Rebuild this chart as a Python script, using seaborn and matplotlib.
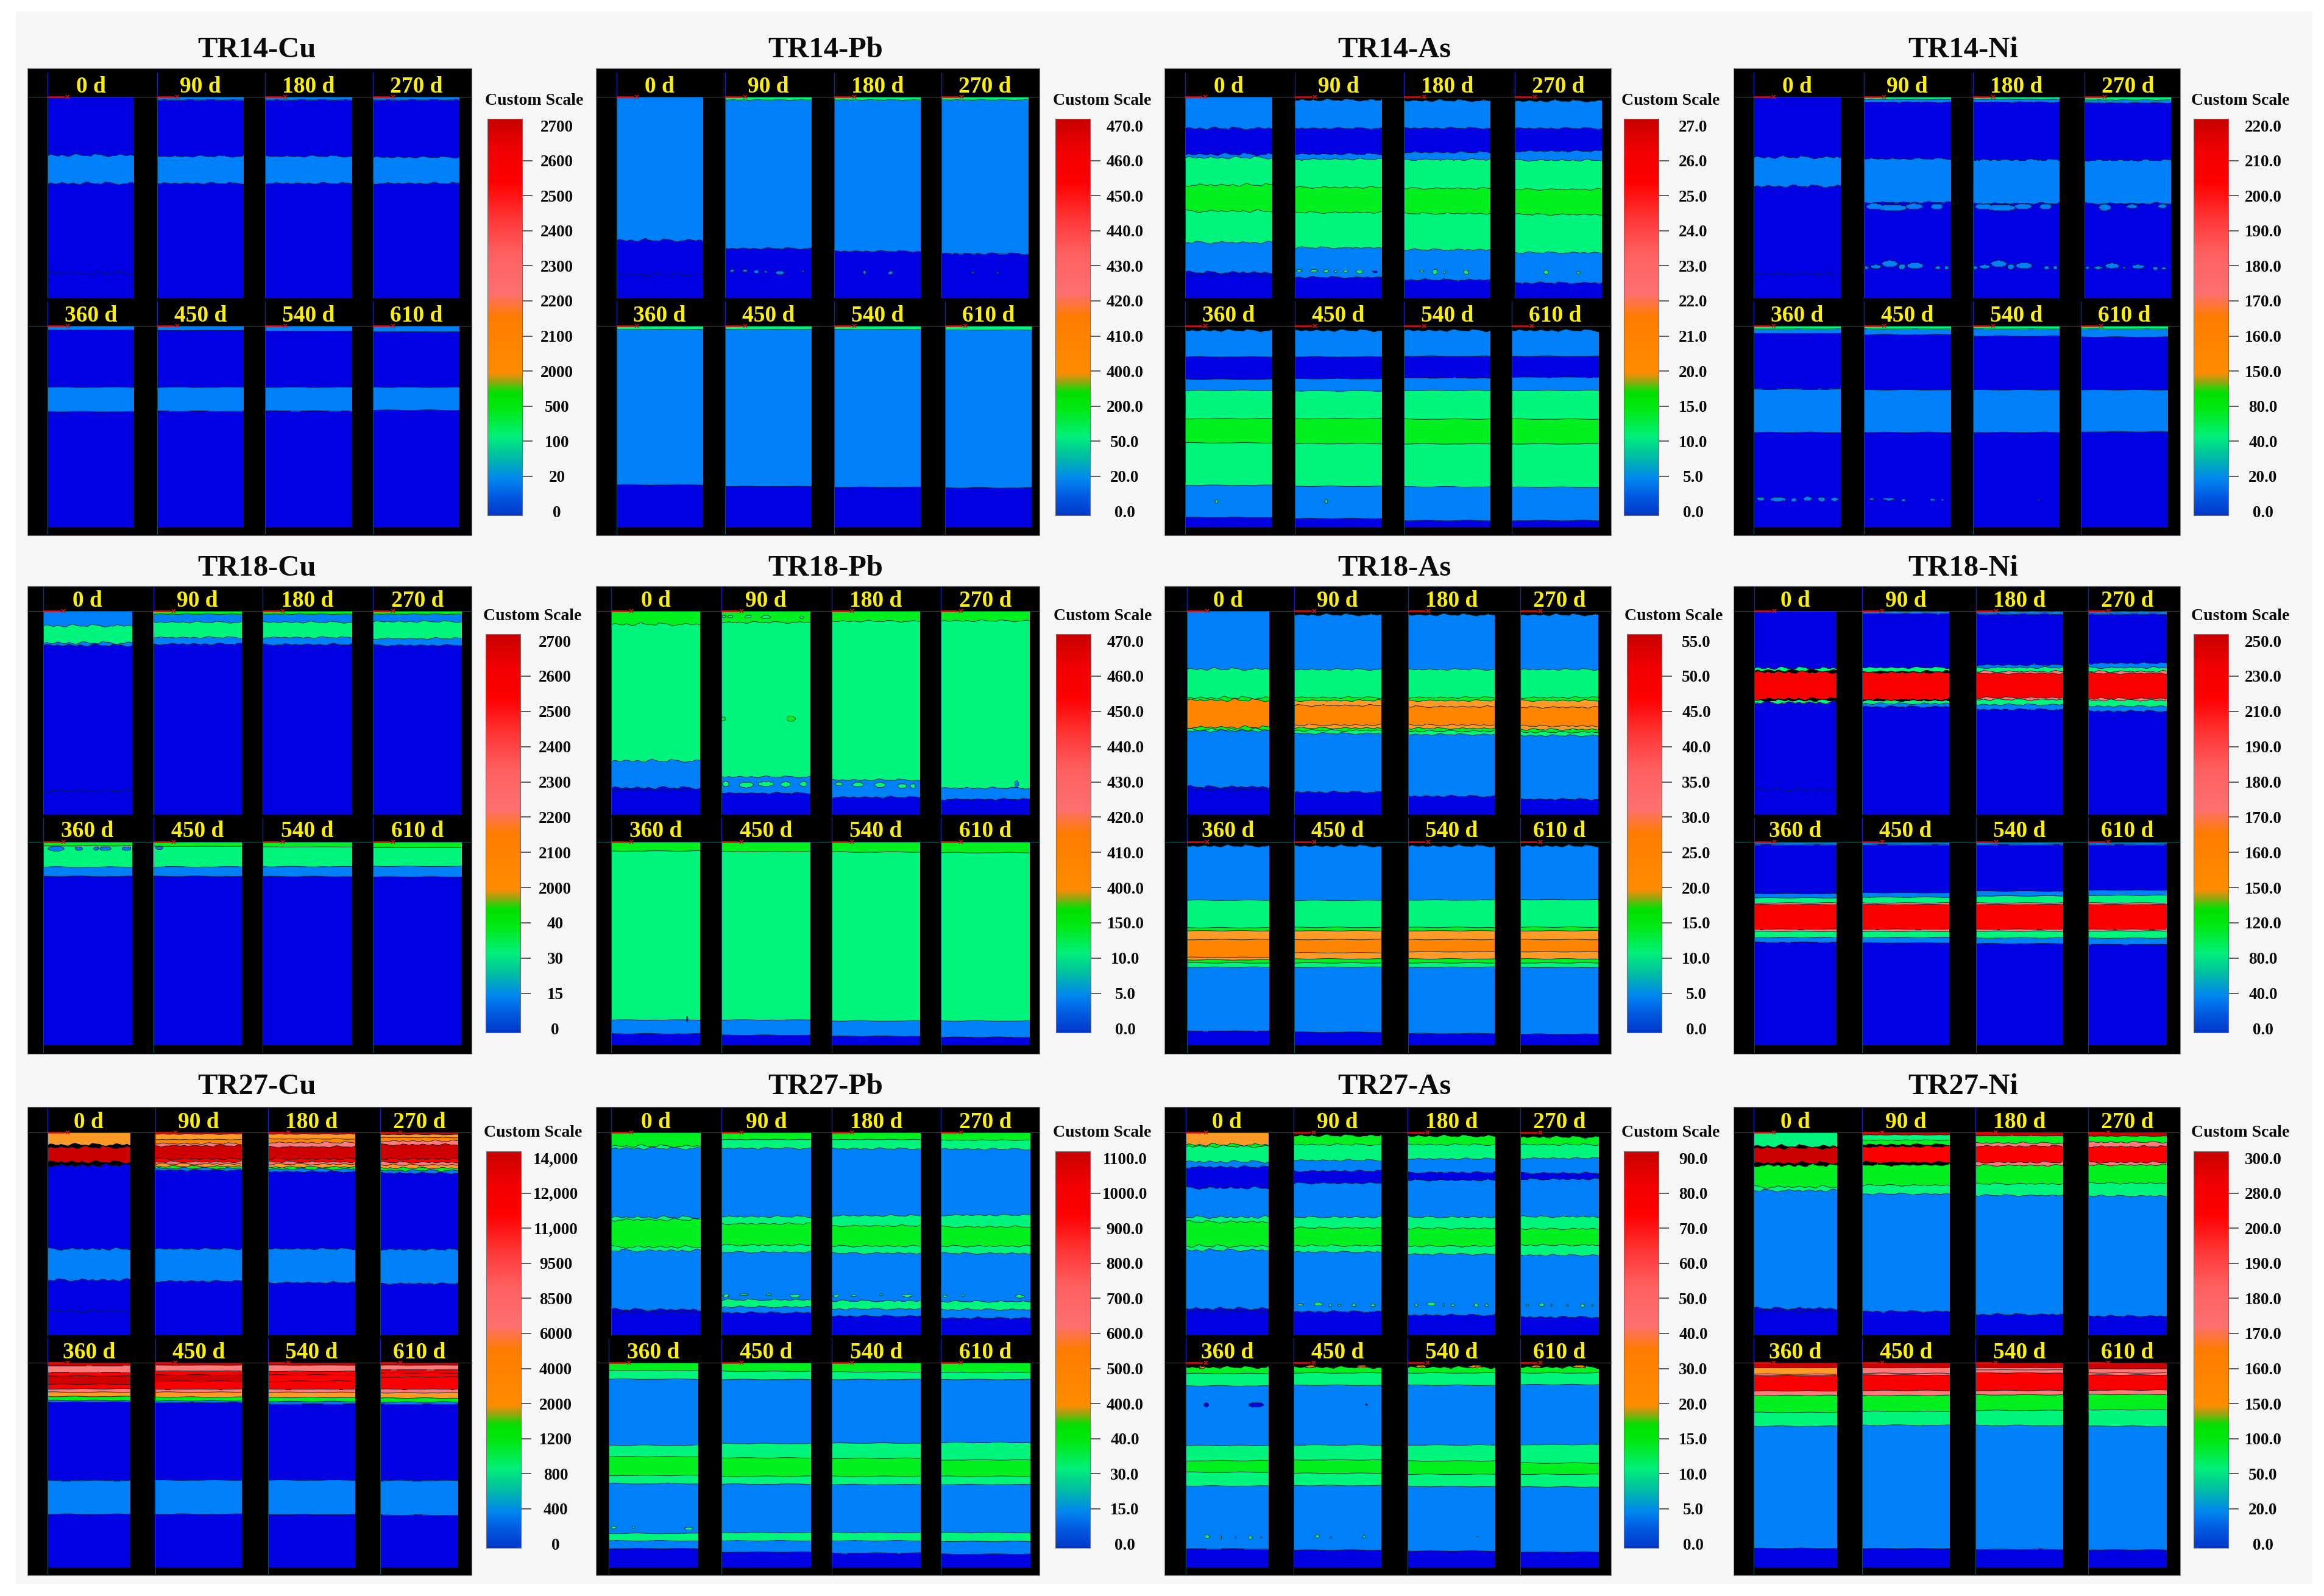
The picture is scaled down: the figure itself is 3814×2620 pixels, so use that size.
import numpy as np
import matplotlib
matplotlib.use("Agg")
import matplotlib.pyplot as plt
from matplotlib.colors import ListedColormap, LinearSegmentedColormap
from matplotlib.patches import Rectangle
import seaborn as sns

sns.set_theme(style="white")
plt.rcParams["font.family"] = ["Liberation Serif", "DejaVu Serif"]

# ------------------------------------------------------------------ data
DAYS = ["0 d", "90 d", "180 d", "270 d", "360 d", "450 d", "540 d", "610 d"]
K = 9  # black, no-data cells above the sediment surface
TITLES = ["TR14-Cu", "TR14-Pb", "TR14-As", "TR14-Ni",
          "TR18-Cu", "TR18-Pb", "TR18-As", "TR18-Ni",
          "TR27-Cu", "TR27-Pb", "TR27-As", "TR27-Ni"]

# colour class of each band, top to bottom; depth of the band boundaries in % of the panel
TR14_CU_LEVELS = [[0, 1, 0, 0]] + [[1, 0, 1, 0]] * 7
TR14_CU_BOUNDS = [[29, 43, 87.6], [1.5, 29.5, 43], [1.5, 29.5, 43], [1.5, 30, 43],
                  [2, 30.4, 42.5], [2.2, 30.4, 42.3], [2.6, 30.4, 42.2], [2.8, 30.4, 41.8]]
TR14_PB_LEVELS = [[1, 0, 0]] + [[2, 1, 0]] * 7
TR14_PB_BOUNDS = [[71.3, 88.4], [1.5, 75.4], [1.5, 76.8], [1.5, 78],
                  [1.8, 78.8], [1.8, 79.6], [1.8, 80], [2, 80.3]]
TR14_AS_LEVELS = [[1, 0, 1, 2, 3, 2, 1, 0, 0]] + [[K, 1, 0, 1, 2, 3, 2, 1, 0]] * 7
TR14_AS_BOUNDS = [[15.6, 28.5, 30.2, 43.8, 56.8, 72.4, 87.3, 88.5],
                  [1.5, 15.6, 28.4, 31, 45, 57.5, 75, 89.7],
                  [1.8, 15.5, 27.6, 31.2, 45.5, 58, 76, 91],
                  [2, 15.6, 27, 31.5, 46, 58.5, 77.5, 92.5],
                  [2.2, 15.3, 26.5, 32, 46, 58, 79, 95],
                  [2.2, 15.3, 26.2, 32.2, 46, 58.4, 79.5, 95.5],
                  [2.2, 15, 25.8, 32, 46.2, 58.5, 79.8, 96.5],
                  [2.2, 15, 25.5, 32, 46.2, 58.5, 80, 96.5]]
TR14_NI_LEVELS = [[0, 1, 0, 0]] + [[2, 1, 0, 1, 0]] * 7
TR14_NI_BOUNDS = [[30, 44.4, 88], [1.2, 2.6, 30.8, 52.5], [1.2, 2.6, 31.3, 53], [1.5, 3, 31.5, 53],
                  [1.5, 3.8, 31.4, 52.8], [1.5, 4.3, 31.7, 52.8], [1.5, 5, 31.7, 52.8], [1.5, 5.5, 31.7, 52.5]]

TR18_CU_LEVELS = [[1, 2, 1, 0, 0]] + [[3, 1, 2, 1, 0]] * 3 + [[3, 2, 1, 0]] * 4
TR18_CU_BOUNDS = [[7.2, 15.7, 16.8, 88.3], [1.5, 5.5, 13, 16.2], [1.5, 5.5, 13, 16.4], [1.5, 5.2, 13.5, 16.8],
                  [2, 12.4, 16.9], [2.2, 12.3, 16.9], [2.5, 12.2, 17], [2.8, 12, 17.2]]
TR18_PB_LEVELS = [[3, 2, 1, 0, 0]] + [[3, 2, 1, 0]] * 7
TR18_PB_BOUNDS = [[6.5, 73.6, 86.9, 87.8], [5.6, 81.5, 89.5], [5, 83, 91.5], [4.8, 87, 92.5],
                  [4.5, 87.5, 94.3], [4.8, 87.5, 95], [5, 88, 95.5], [5.3, 88, 96]]
TR18_AS_LEVELS = [[1, 2, 3, 4, 3, 2, 1, 0, 0]] + [[K, 1, 2, 3, 5, 4, 5, 3, 2, 1, 0]] * 7
TR18_AS_BOUNDS = [[28.5, 42.6, 43.8, 57.1, 58.2, 58.8, 86.4, 87.6],
                  [1.8, 28.7, 42.5, 44, 46.4, 56, 57.5, 58.7, 60.2, 89],
                  [1.8, 28.7, 42.5, 44, 47, 56, 57.7, 59, 60.7, 91],
                  [1.8, 28.7, 42.5, 44, 47.3, 56.5, 58.2, 59.5, 61.2, 92.5],
                  [2, 28.7, 42.2, 43.7, 48, 56.8, 58, 59.5, 61.6, 93],
                  [2, 28.8, 42, 43.7, 48, 54.5, 57.5, 59.5, 61.6, 93.5],
                  [2, 28.6, 42, 43.7, 48, 54, 57.5, 59.5, 61.6, 94.2],
                  [2, 28.4, 41.9, 43.7, 48, 54, 57.5, 59.5, 61.7, 94.5]]
TR18_NI_LEVELS = [[0, 2, K, 7, K, 2, 0, 0], [2, 1, 0, 2, K, 7, K, 2, 1, 0]] + [[2, 1, 0, 1, 2, 6, 7, 6, 2, 1, 0]] * 6
TR18_NI_BOUNDS = [[28, 29.2, 30, 43.2, 43.9, 45, 87.8],
                  [.4, 1.3, 27.8, 29.7, 30.2, 43.5, 44, 45.5, 47],
                  [.4, 1.5, 26.5, 27.8, 29.7, 30.6, 42.6, 43.5, 46, 48.4],
                  [.4, 1.5, 25.6, 27.8, 29.7, 30.6, 43, 43.8, 46.8, 49.2],
                  [.5, 1.5, 25.4, 27.5, 30, 30.8, 43, 44, 47, 49.3],
                  [.5, 1.5, 25, 27.2, 30, 30.8, 43, 44, 47, 49.6],
                  [.5, 1.5, 24.2, 26.6, 30, 30.8, 43, 43.9, 47.2, 50],
                  [.5, 1.5, 23.8, 26.3, 30, 30.8, 43, 43.8, 47.3, 50.5]]

TR27_CU_LEVELS = ([[5, K, 8, K, 0, 1, 0, 0]] + [[8, 5, 4, 6, 8, 7, 6, 5, 3, 1, 0, 1, 0]] * 3
                  + [[8, 6, 7, 8, 7, 6, 5, 3, 1, 0, 1, 0]] * 2 + [[8, 6, 7, 7, 7, 6, 5, 3, 1, 0, 1, 0]] * 2)
TR27_CU_BOUNDS = [[6, 7.3, 14.5, 16.2, 57.4, 72.7, 88],
                  [.8, 3.5, 5.5, 6.5, 13, 14.5, 15.5, 16.7, 17.6, 18.6, 57.4, 73.3],
                  [.8, 3.2, 5, 7, 13, 14.5, 15.6, 17, 18, 19.3, 57.4, 74],
                  [1, 2.5, 4.2, 6, 13, 14.7, 16, 17.5, 18.7, 20, 57.7, 74.5],
                  [1.5, 4.8, 6.5, 10.5, 12.8, 14.4, 16.5, 18.4, 19.2, 57.6, 74],
                  [1.2, 4, 6, 9, 13, 14.4, 16.8, 18.6, 19.5, 57.4, 74],
                  [1.2, 4.2, 6, 9, 13, 14.5, 17, 19, 20.2, 57.4, 74.2],
                  [1.2, 3.5, 5, 7, 13, 14.7, 17.3, 19.2, 20.3, 57.6, 74.5]]
TR27_PB_LEVELS = [[3, 2, 1, 2, 3, 2, 1, 0, 0]] + [[3, 2, 1, 2, 3, 2, 1, 2, 1, 0]] * 7
TR27_PB_BOUNDS = [[6.7, 7.8, 41.8, 43, 56.4, 58.2, 87.3, 88.7],
                  [3.5, 7.8, 41.5, 45, 55.5, 59, 82.5, 86, 88.8],
                  [3.5, 8, 41, 46, 56, 59.5, 83, 87, 90.5],
                  [3.8, 8.2, 40.7, 46.5, 56, 59.6, 83.3, 87.3, 91.5],
                  [3.9, 8, 40.3, 45.9, 55.1, 59.1, 83.4, 87, 90.8],
                  [4.2, 8.2, 39.5, 46.5, 55.5, 59.3, 83, 87, 92.5],
                  [4.5, 8.2, 39.3, 46.7, 55.5, 59.5, 83, 87, 93],
                  [4.8, 8.2, 39, 47.5, 55.5, 59.5, 83, 87.3, 93.5]]
TR27_AS_LEVELS = ([[5, 3, 2, 1, 0, 1, 2, 3, 2, 1, 0, 0]] + [[K, 3, 2, 1, 0, 1, 2, 3, 2, 1, 0]] * 3
                  + [[K, 3, 2, 1, 2, 3, 2, 1, 0]] * 4)
TR27_AS_BOUNDS = [[6, 6.8, 14.4, 17, 27.3, 41.7, 44, 56, 58, 86.8, 88],
                  [1.5, 6, 13.7, 19, 25, 41.7, 47, 55.8, 58.9, 88.3],
                  [1.7, 6, 13, 19.7, 23.5, 41.7, 47.3, 56, 60, 90],
                  [2.2, 6, 12.7, 20, 23, 41.5, 47.5, 55.5, 60.5, 91],
                  [2.2, 5.3, 11.3, 40.4, 47.9, 53.5, 60.2, 91],
                  [2.2, 5, 11, 40.2, 47.5, 54, 60, 91.5],
                  [2.2, 5, 11, 40.2, 48, 54.5, 60.5, 92],
                  [2.2, 5, 10.7, 40, 49, 54.5, 60.7, 92.5]]
TR27_NI_LEVELS = ([[2, K, 8, K, 3, 2, 1, 0, 0], [8, 2, 3, K, 7, K, 3, 2, 1, 0]]
                  + [[8, 3, 6, 7, 6, 3, 2, 1, 0]] * 2 + [[8, 5, 6, 7, 6, 3, 2, 1, 0]]
                  + [[8, 6, 6, 7, 6, 3, 2, 1, 0]] * 3)
TR27_NI_BOUNDS = [[6.7, 7.6, 15, 16.2, 26.8, 28.6, 86.7, 88],
                  [1.2, 3.8, 6, 6.9, 14.7, 16, 26, 30.3, 88.2],
                  [1.6, 5.2, 6.7, 14.7, 16.2, 25.3, 31, 89.7],
                  [1.8, 4.8, 6.9, 14.7, 16, 25, 31.3, 90.5],
                  [2.5, 5.6, 6.3, 13.8, 16, 24.3, 31, 90.7],
                  [2.5, 5.2, 6, 13.6, 16, 23.8, 30.5, 90.8],
                  [2.5, 3.5, 5, 13.6, 15.7, 23.3, 30.6, 91.2],
                  [3, 5, 6, 13.4, 15.5, 23, 31, 91.4]]

# isolated islands: panel -> (x %, depth %, half width %, half height %, colour class)
TR14_PB_BLOBS = {1: [(8, 86.5, 2.5, .6, 1), (23, 86.5, 4, .5, 1), (36, 87, 3, .9, 1), (47, 87, 2, .4, 1), (63, 87.5, 5, .8, 1), (90, 86.8, 1.5, .4, 1)],
                 2: [(35, 87.3, 2, .9, 1), (65, 87.6, 3, .8, 1)], 3: [(36, 87.4, 1, .5, 1), (65, 87.6, 1.2, .4, 1)]}
TR14_AS_BLOBS = {1: [(5, 86.5, 3, .6, 2), (22, 86.5, 4, .7, 2), (36, 86.7, 2.5, 1, 2), (47, 87, 2, .6, 2), (58, 86.8, 3, .6, 2), (74, 87, 4, .9, 2), (92, 87, 3, .4, 0)],
                 2: [(21, 86.5, 3, .4, 2), (36, 87, 2.8, 1.2, 2), (47, 87.2, 1.5, .6, 2), (72, 87.2, 3, 1, 2)],
                 3: [(36, 87.3, 2.5, 1.1, 2), (73, 87.6, 1.8, .7, 2)], 4: [(36, 87, 2, 1, 2)], 5: [(36, 87, 1.4, .9, 2)], 6: [(36, 87, .6, .4, 2)]}
_ni_row1 = [(3, 85, 2, .9, 1), (14, 84.5, 6, 1, 1), (30, 83, 9, 1.6, 1), (44, 84.5, 4, 1.3, 1), (59, 84, 9, 1.5, 1), (85, 85, 3, .9, 1), (95, 85, 2.5, .9, 1),
            (12, 54.5, 9, 1.5, 1), (33, 55.2, 16, 1.6, 1), (58, 54.5, 10, 1.4, 1), (84, 54.6, 7, 1.4, 1)]
TR14_NI_BLOBS = {1: _ni_row1, 2: _ni_row1, 3: [(3, 85, 2, .7, 1), (16, 85, 5, .7, 1), (32, 84, 8, 1.3, 1), (46, 85, 2, .6, 1), (62, 84.5, 7, 1, 1), (82, 85.3, 3, .8, 1), (92, 85.3, 3, .6, 1),
                                                (24, 55, 7, 1.6, 1), (55, 54.5, 6, 1, 1), (90, 54.4, 5, 1, 1)],
                 4: [(8, 85.8, 4, 1, 1), (28, 86, 9, 1, 1), (46, 86.3, 3, .9, 1), (62, 85.7, 5, 1, 1), (78, 86, 4, 1, 1), (93, 86, 4, .9, 1)],
                 5: [(9, 86, 3, .5, 1), (29, 85.9, 7, .6, 1), (46, 86.5, 2.5, .5, 1), (79, 86.2, 2.5, .6, 1), (90, 86.2, 1.5, .4, 1)], 6: [(76, 86.2, 1, .3, 1)]}
TR18_CU_BLOBS = {4: [(15, 3.3, 9, 1.2, 1), (40, 3.3, 4, 1, 1), (60, 3.3, 3, .8, 1), (70, 3.3, 6, 1, 1), (94, 3.3, 5, 1, 1)], 5: [(7, 3, 4, .8, 1)]}
TR18_PB_BLOBS = {1: [(2, 53, 2, 1.1, 3), (78, 53, 5, 1.3, 3), (3, 2.8, 2, .7, 2), (10, 2.8, 3, .7, 2), (30, 2.8, 4, .7, 2), (50, 3, 5, .8, 2), (90, 3, 2.5, .7, 2),
                     (5, 85, 4, 1.2, 2), (28, 85.5, 8, 1.4, 2), (50, 85, 9, 1.2, 2), (72, 85.2, 6, 1.3, 2), (92, 85, 4, 1.3, 2)],
                 2: [(8, 85, 4, .9, 2), (30, 85.3, 6, 1.1, 2), (55, 85.5, 6, 1.2, 2), (80, 86, 5, 1.2, 2), (92, 86, 3, 1.2, 2)],
                 3: [(85, 85, 2, 1.5, 1)], 4: [(85, 87, .8, 1.5, 1)]}
TR27_PB_BLOBS = {1: [(5, 80.5, 3, .8, 2), (25, 80, 4, .6, 2), (53, 80, 3, .6, 2), (82, 80.5, 6, .7, 2)],
                 2: [(5, 80.5, 3, .7, 2), (25, 80.5, 3, .5, 2), (55, 80, 1.5, .4, 2), (85, 80.5, 6, .6, 2)],
                 3: [(5, 80.8, 2.5, .6, 2), (25, 80.5, 1.5, .4, 2), (88, 80.8, 5, .7, 2)], 4: [(6, 80.5, 3, .6, 2), (28, 80.5, 1.5, .4, 2), (90, 81, 5, .6, 2)]}
TR27_AS_BLOBS = {1: [(8, 85, 4, .5, 2), (28, 84.7, 5, .9, 2), (42, 85.2, 1.5, .8, 2), (52, 85.2, 1.5, .6, 2), (69, 85.2, 2, .8, 2), (90, 85.3, 3, .6, 2)],
                 2: [(10, 85.2, 2, .5, 2), (27, 84.6, 5, .8, 2), (41, 85, 1, .7, 2), (52, 85.2, 2, .6, 2), (78, 85.2, 2.5, .9, 2), (90, 85.2, 2, .6, 2)],
                 3: [(9, 85.3, 1.5, .4, 2), (27, 85, 4, .8, 2), (40, 85.3, .7, .7, 2), (60, 85.3, 1.5, .4, 2), (79, 85.4, 2.5, .9, 2), (91, 85.4, 1.5, .5, 2)],
                 4: [(26, 85, 3, 1, 2), (42, 85.5, 1, .9, 2), (60, 85.4, .8, .4, 2), (78, 85.4, 2, .9, 2), (91, 85.3, 1, .5, 2), (25, 20.6, 2.5, .9, 0), (85, 20.6, 9, 1.1, 0), (20, 2.2, 4, .7, 4)],
                 5: [(27, 84.9, 2, .9, 2), (42, 85.5, .7, .5, 2), (80, 85.1, 1.5, .9, 2), (83, 20.5, 1.5, .4, 0), (20, 2, 6, .7, 4), (78, 2, 6, .7, 4)],
                 6: [(80, 85.1, .8, .5, 2), (15, 2, 6, .7, 4), (78, 2, 8, .7, 4)], 7: [(20, 2, 6, .7, 4), (75, 2, 9, .7, 4)]}

LEVELS = [TR14_CU_LEVELS, TR14_PB_LEVELS, TR14_AS_LEVELS, TR14_NI_LEVELS,
          TR18_CU_LEVELS, TR18_PB_LEVELS, TR18_AS_LEVELS, TR18_NI_LEVELS,
          TR27_CU_LEVELS, TR27_PB_LEVELS, TR27_AS_LEVELS, TR27_NI_LEVELS]
BOUNDS = [TR14_CU_BOUNDS, TR14_PB_BOUNDS, TR14_AS_BOUNDS, TR14_NI_BOUNDS,
          TR18_CU_BOUNDS, TR18_PB_BOUNDS, TR18_AS_BOUNDS, TR18_NI_BOUNDS,
          TR27_CU_BOUNDS, TR27_PB_BOUNDS, TR27_AS_BOUNDS, TR27_NI_BOUNDS]
BLOBS = [{}, TR14_PB_BLOBS, TR14_AS_BLOBS, TR14_NI_BLOBS,
         TR18_CU_BLOBS, TR18_PB_BLOBS, {}, {},
         {}, TR27_PB_BLOBS, TR27_AS_BLOBS, {}]

# boundary relief read from the sections, in units of the panel's amplitude
WAVE_ROUGH = [.2, -.5, .1, .5, -.3, .4, .8, -.2, -.9, -.1, .3, .2, .6, -.8, -.4, -.2, .5, .9, .2, .3, -.6, -.1, .4, -.3, .5]
WAVE_SMOOTH = [.3, -.1, -.4, -.2, .1, .4, .2, -.3, -.5, -.1, .3, .4, .1]

# colour-scale tick labels, top to bottom
CU14_TICKS = ["2700", "2600", "2500", "2400", "2300", "2200", "2100", "2000", "500", "100", "20", "0"]
PB14_TICKS = ["470.0", "460.0", "450.0", "440.0", "430.0", "420.0", "410.0", "400.0", "200.0", "50.0", "20.0", "0.0"]
AS14_TICKS = ["27.0", "26.0", "25.0", "24.0", "23.0", "22.0", "21.0", "20.0", "15.0", "10.0", "5.0", "0.0"]
NI14_TICKS = ["220.0", "210.0", "200.0", "190.0", "180.0", "170.0", "160.0", "150.0", "80.0", "40.0", "20.0", "0.0"]
CU18_TICKS = ["2700", "2600", "2500", "2400", "2300", "2200", "2100", "2000", "40", "30", "15", "0"]
PB18_TICKS = ["470.0", "460.0", "450.0", "440.0", "430.0", "420.0", "410.0", "400.0", "150.0", "10.0", "5.0", "0.0"]
AS18_TICKS = ["55.0", "50.0", "45.0", "40.0", "35.0", "30.0", "25.0", "20.0", "15.0", "10.0", "5.0", "0.0"]
NI18_TICKS = ["250.0", "230.0", "210.0", "190.0", "180.0", "170.0", "160.0", "150.0", "120.0", "80.0", "40.0", "0.0"]
CU27_TICKS = ["14,000", "12,000", "11,000", "9500", "8500", "6000", "4000", "2000", "1200", "800", "400", "0"]
PB27_TICKS = ["1100.0", "1000.0", "900.0", "800.0", "700.0", "600.0", "500.0", "400.0", "40.0", "30.0", "15.0", "0.0"]
AS27_TICKS = ["90.0", "80.0", "70.0", "60.0", "50.0", "40.0", "30.0", "20.0", "15.0", "10.0", "5.0", "0.0"]
NI27_TICKS = ["300.0", "280.0", "200.0", "190.0", "180.0", "170.0", "160.0", "150.0", "100.0", "50.0", "20.0", "0.0"]
TICKS = [CU14_TICKS, PB14_TICKS, AS14_TICKS, NI14_TICKS, CU18_TICKS, PB18_TICKS, AS18_TICKS, NI18_TICKS,
         CU27_TICKS, PB27_TICKS, AS27_TICKS, NI27_TICKS]

# ------------------------------------------------------------------ style / layout (pixels)
W, H = 3814, 2620
LEVEL_COLORS = ["#0000e2", "#0080f8", "#00f57c", "#00f020", "#ff8400", "#ff9a26", "#ff7a78", "#fb0000", "#cf0000", "#000000"]
BAR_STOPS = [(0, "#0038c8"), (.045, "#0058e0"), (.09, "#0084f0"), (.15, "#00c0a0"), (.2, "#00f078"),
             (.27, "#00e810"), (.31, "#00e000"), (.34, "#a8a010"), (.36, "#ff8c00"), (.5, "#ff7c00"),
             (.56, "#ff7070"), (.66, "#ff6060"), (.76, "#ff3030"), (.84, "#ff0000"), (.92, "#f00000"), (1, "#c80000")]
BLACK_X = [(44.5, 773.5), (977.5, 1706), (1911, 2644), (2845, 3578)]
BLACK_Y = [(111.5, 878.5), (962, 1730), (1817, 2586)]
PANEL_Y = [(159, 489, 535, 866), (1003, 1337, 1382, 1716), (1859, 2192, 2237, 2573)]
PANEL_X = [[(78, 220), (257.6, 400), (435, 578), (612, 754)],
           [(1011.5, 1153.5), (1190, 1332), (1369, 1511), (1545, 1688)],
           [(1945, 2088), (2125, 2268), (2303.6, 2446), (2486, 2629)],
           [(2878, 3021), (3058.6, 3201.6), (3237.5, 3380), (3420.7, 3563)],
           [(70.7, 216.6), (251.5, 397), (431, 578), (612, 757.6)],
           [(1003.4, 1149), (1184, 1330), (1364.6, 1510), (1544, 1690)],
           [(1947.5, 2082.7), (2123.5, 2266.5), (2310.6, 2453), (2495, 2623)],
           [(2879, 3014), (3056, 3199), (3243, 3386), (3427, 3556)],
           [(78, 213.5), (254.5, 397), (440, 583), (624, 752)],
           [(1003.4, 1150), (1184, 1331), (1364.6, 1511), (1544, 1691)],
           [(1945.6, 2082), (2123, 2267), (2310, 2454), (2495, 2624)],
           [(2878, 3014.5), (3056, 3200), (3242, 3386), (3426.5, 3556)]]
ROW2_LAST_X = {1: (1551, 1693), 2: (2481, 2624), 3: (3415, 3558)}
ROW2_FIRST_X = {9: (999, 1145.5)}
BAR_X = [800, 1732, 2665, 3600, 797, 1733, 2670, 3600, 798, 1732, 2665, 3600]
BAR_Y = [(195, 846), (1041, 1695), (1890, 2541)]
TITLE_X = [421, 1355, 2288, 3222]
TITLE_Y = [82, 933, 1784]
NR, NC = 240, 72
SERIF = ["Liberation Serif", "DejaVu Serif"]


def axes_px(x0, x1, y0, y1, **kw):
    return fig.add_axes([x0 / W, 1 - y1 / H, (x1 - x0) / W, (y1 - y0) / H], **kw)


fig = plt.figure(figsize=(W / 100, H / 100), dpi=100, facecolor="white")
bg = axes_px(0, W, 0, H, zorder=0)
fg = axes_px(0, W, 0, H, zorder=3)
for a in (bg, fg):
    a.set_xlim(0, W)
    a.set_ylim(H, 0)
    a.axis("off")
fg.patch.set_alpha(0)
bg.add_patch(Rectangle((26, 19), 3769, 2581, fc="#f6f6f6", ec="none"))

level_cmap = ListedColormap(LEVEL_COLORS)
bar_cmap = LinearSegmentedColormap.from_list("scale", BAR_STOPS, N=512)
col_pos = (np.arange(NC) + .5) / NC


def relief(j, panel, amp, rough=False):
    wave = WAVE_ROUGH if (panel < 4 or rough) else WAVE_SMOOTH
    knots = np.linspace(0, 1, len(wave))
    return amp * np.interp(col_pos, knots, np.roll(wave, 3 * j + panel))


for f in range(12):
    r, c = f // 4, f % 4
    bx0, bx1 = BLACK_X[c]
    by0, by1 = BLACK_Y[r]
    bg.add_patch(Rectangle((bx0, by0), bx1 - bx0, by1 - by0, fc="black", ec="#8a8a8a", lw=.8))
    fg.text(TITLE_X[c], TITLE_Y[r], TITLES[f], ha="center", va="center", fontsize=35, fontweight="bold",
            color="#0a0a0a", family=SERIF)
    top0, bot0, top1, bot1 = PANEL_Y[r]
    for ytop in (top0, top1):
        fg.plot([bx0, bx1], [ytop, ytop], color="#0c5a5a", lw=.8)
    for p in range(8):
        x0, x1 = PANEL_X[f][p % 4]
        if p == 7 and f in ROW2_LAST_X:
            x0, x1 = ROW2_LAST_X[f]
        if p == 4 and f in ROW2_FIRST_X:
            x0, x1 = ROW2_FIRST_X[f]
        y0, y1 = (top0, bot0) if p < 4 else (top1, bot1)
        bnds = BOUNDS[f][p]
        lev = LEVELS[f][p]
        amp = .9 if p == 0 else (.6 if p < 4 else .38)
        lines = []
        for j, b in enumerate(bnds):
            if j == 0 and lev[0] == K:
                lines.append(b + relief(j, p, .75, rough=True))
            else:
                lines.append(b + relief(j, p, amp if b > 4 else amp * .35))
        lines = np.maximum.accumulate(np.array(lines), axis=0)
        depth = (np.arange(NR) + .5) / NR * 100
        mat = np.zeros((NR, NC))
        for k in range(NC):
            mat[:, k] = np.array(lev)[np.searchsorted(lines[:, k], depth)]
        blobs = BLOBS[f].get(p, [])
        yy, xx = np.meshgrid(depth, col_pos * 100, indexing="ij")
        masks = {}
        for (bxp, bd, hw, hh, bl) in blobs:
            m = ((xx - bxp) / hw) ** 2 + ((yy - bd) / hh) ** 2 <= 1
            mat[m] = bl
            masks[bl] = masks.get(bl, np.zeros_like(m)) | m
        ax = axes_px(x0, x1, y0, y1, zorder=1)
        sns.heatmap(mat, ax=ax, cmap=level_cmap, vmin=-.5, vmax=9.5, cbar=False,
                    xticklabels=False, yticklabels=False)
        for j in range(lines.shape[0]):
            ax.plot(col_pos * NC, lines[j] / 100 * NR, color="#06202a", lw=.75, alpha=.85)
        for m in masks.values():
            ax.contour(col_pos * NC, depth / 100 * NR, m.astype(float), levels=[.5], colors="#06202a", linewidths=.6)
        ax.set_xlim(0, NC)
        ax.set_ylim(NR, 0)
        # yellow time label, axes rulers and the small red scale mark
        fg.text((x0 + x1) / 2, y0 - 17, DAYS[p], ha="center", va="center", fontsize=27, fontweight="bold",
                color="#fbf000", family=SERIF)
        fg.plot([x0, x0], [y0 - 40, by1 if p >= 4 else y1], color="#0c4a5a", lw=.8)
        fg.plot([x0, x0], [y0 - 40, y0], color="#1020c0", lw=1.0)
        fg.plot([x0, x0 + 27], [y0, y0], color="#e01010", lw=1.8)
        fg.plot([x0 + 33], [y0], marker="x", ms=4, mew=1.2, color="#e01010")

    # colour scale
    bar_y0, bar_y1 = BAR_Y[r]
    bar_x0 = BAR_X[f]
    bar = axes_px(bar_x0, bar_x0 + 57, bar_y0, bar_y1, zorder=1)
    grad = np.linspace(1, 0, 512).reshape(-1, 1)
    sns.heatmap(grad, ax=bar, cmap=bar_cmap, vmin=0, vmax=1, cbar=False, xticklabels=False, yticklabels=False)
    for s in bar.spines.values():
        s.set_visible(True)
        s.set_edgecolor("#707070")
        s.set_linewidth(.8)
    pos = np.linspace(.017, .99, 12) * 512
    bar.yaxis.tick_right()
    bar.set_yticks(pos)
    bar.set_yticklabels(TICKS[f], fontsize=19.5, fontweight="bold", family=SERIF, color="#0a0a0a",
                        rotation=0, ha="center")
    bar.tick_params(axis="y", length=12, width=1.1, color="#333333", pad=29, right=True, left=False)
    ticks = bar.yaxis.get_major_ticks()
    ticks[0].tick2line.set_visible(False)
    ticks[-1].tick2line.set_visible(False)
    fg.text(bar_x0 + 77, bar_y0 - 30, "Custom Scale", ha="center", va="center", fontsize=20, fontweight="bold",
            color="#0a0a0a", family=SERIF)

fig.savefig("out.png", dpi=100, facecolor="white")
